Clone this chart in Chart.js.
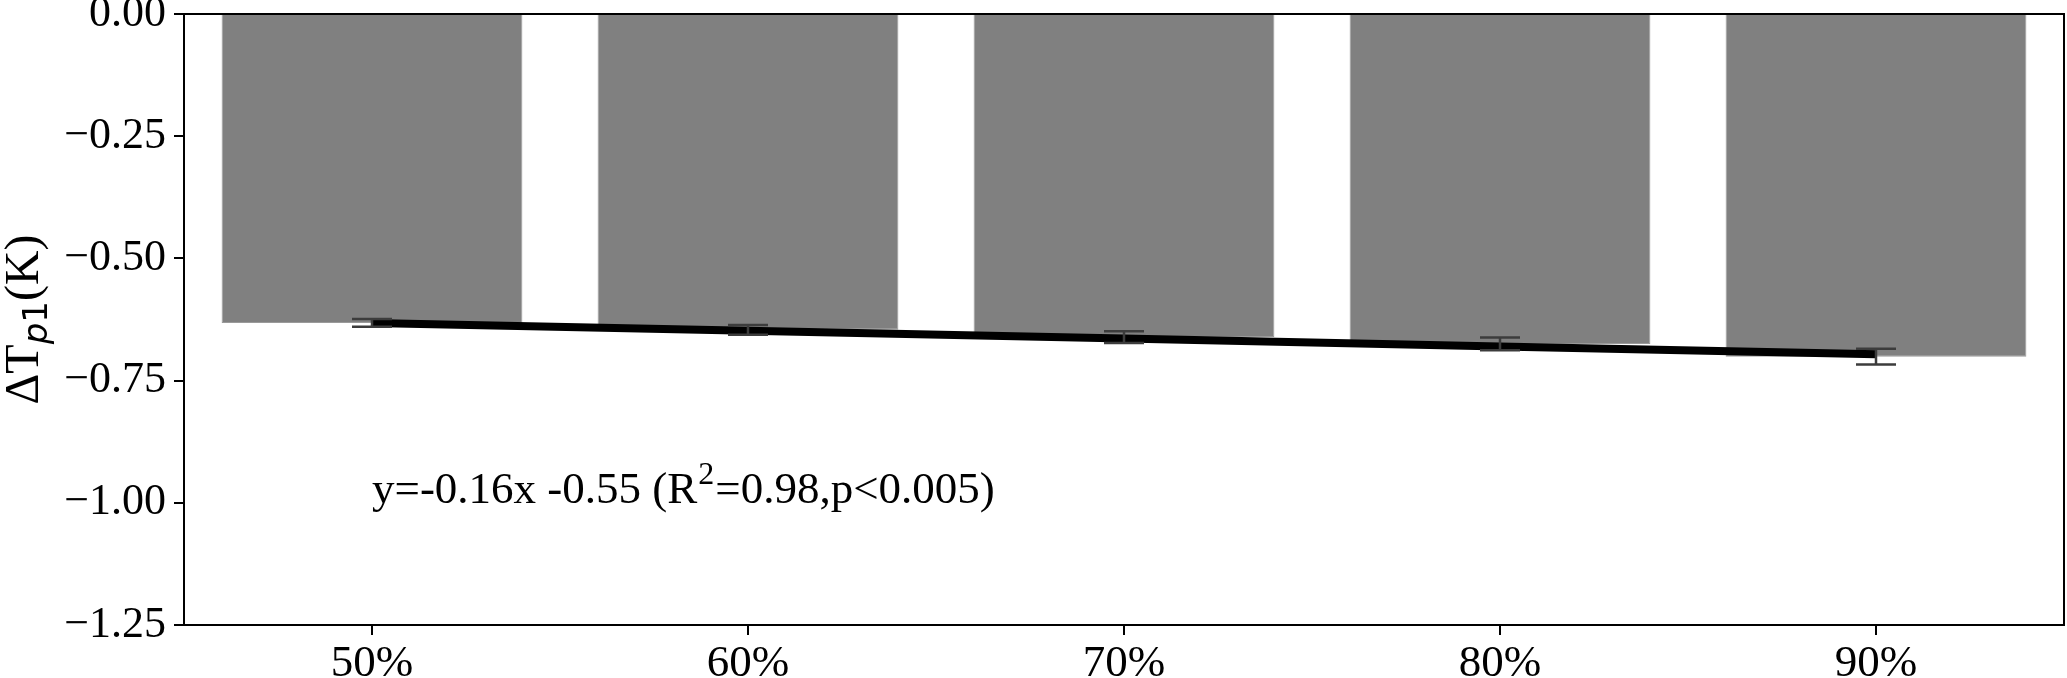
<!DOCTYPE html>
<html lang="en">
<head>
  <meta charset="UTF-8">
  <title>Delta Tp1 bar chart</title>
  <script src="https://cdn.jsdelivr.net/npm/chart.js"></script>
  <style>
    html, body { margin: 0; padding: 0; background: #fff; }
    #wrap { width: 2067px; height: 678px; position: relative; }
  </style>
</head>
<body>
  <div id="wrap"><canvas id="chart"></canvas></div>

  <script>
    // data
    const categories = ['50%', '60%', '70%', '80%', '90%'];
    const barValues = [-0.632, -0.646, -0.661, -0.675, -0.701];
    const errValues = [0.008, 0.010, 0.012, 0.013, 0.016];
    const fitValues = [-0.632, -0.648, -0.664, -0.680, -0.696];
    const yTicks = [0, -0.25, -0.5, -0.75, -1.0, -1.25];
    const yTickLabels = ['0.00', '\u22120.25', '\u22120.50', '\u22120.75', '\u22121.00', '\u22121.25'];
    const fitText = ['y=-0.16x -0.55 (R', '2', '=0.98,p<0.005)'];
    const fitTextAt = [0, -1.0]; // category index, y value

    const serif = "'Liberation Serif', 'Times New Roman', serif";

    // error bars, drawn on top of the bars and the fit line
    const errorBars = {
      id: 'errorBars',
      afterDatasetsDraw(chart) {
        const ctx = chart.ctx, x = chart.scales.x, y = chart.scales.y;
        ctx.save();
        ctx.strokeStyle = '#3c3c3c';
        ctx.lineWidth = 2.5;
        barValues.forEach((v, i) => {
          const px = x.getPixelForValue(i);
          const top = y.getPixelForValue(v + errValues[i]);
          const bot = y.getPixelForValue(v - errValues[i]);
          ctx.beginPath();
          ctx.moveTo(px, top); ctx.lineTo(px, bot);
          ctx.moveTo(px - 20, top); ctx.lineTo(px + 20, top);
          ctx.moveTo(px - 20, bot); ctx.lineTo(px + 20, bot);
          ctx.stroke();
        });
        ctx.restore();
      }
    };

    // frame, y title and the regression note
    const extras = {
      id: 'extras',
      afterDraw(chart) {
        const ctx = chart.ctx, a = chart.chartArea;
        const x = chart.scales.x, y = chart.scales.y;
        ctx.save();
        ctx.strokeStyle = '#000';
        ctx.lineWidth = 2;
        ctx.strokeRect(a.left, a.top, a.right - a.left, a.bottom - a.top);

        // regression text
        let tx = x.getPixelForValue(fitTextAt[0]);
        const ty = y.getPixelForValue(fitTextAt[1]);
        ctx.fillStyle = '#000';
        ctx.textBaseline = 'alphabetic';
        ctx.textAlign = 'left';
        ctx.font = '45px ' + serif;
        ctx.fillText(fitText[0], tx, ty);
        tx += ctx.measureText(fitText[0]).width + 1;
        ctx.font = '32px ' + serif;
        ctx.fillText(fitText[1], tx, ty - 19);
        tx += ctx.measureText(fitText[1]).width + 1;
        ctx.font = '45px ' + serif;
        ctx.fillText(fitText[2], tx, ty);

        // y axis title: ΔT_p1(K)
        ctx.translate(0, (a.top + a.bottom) / 2);
        ctx.rotate(-Math.PI / 2);
        const parts = [
          { t: '\u0394T', f: '48px ' + serif, dy: 0 },
          { t: 'p', f: 'italic 34px DejaVu Sans', dy: 9 },
          { t: '1', f: '34px DejaVu Sans', dy: 9 },
          { t: '(K)', f: '48px ' + serif, dy: 0 }
        ];
        let w = 0;
        parts.forEach(p => { ctx.font = p.f; p.w = ctx.measureText(p.t).width; w += p.w; });
        let cx = -w / 2;
        parts.forEach(p => {
          ctx.font = p.f;
          ctx.fillText(p.t, cx, 38 + p.dy);
          cx += p.w;
        });
        ctx.restore();
      }
    };

    new Chart(document.getElementById('chart'), {
      data: {
        labels: categories,
        datasets: [
          {
            type: 'line',
            data: fitValues,
            borderColor: '#000',
            borderWidth: 8,
            pointRadius: 0,
            fill: false,
            order: 0
          },
          {
            type: 'bar',
            data: barValues,
            backgroundColor: '#808080',
            borderColor: '#9a9a9a',
            borderWidth: 1,
            barPercentage: 0.8,
            categoryPercentage: 1,
            order: 1
          }
        ]
      },
      options: {
        responsive: true,
        maintainAspectRatio: false,
        animation: false,
        layout: { padding: { top: 14, right: 3, left: 0, bottom: 0 } },
        plugins: { legend: { display: false }, tooltip: { enabled: false } },
        scales: {
          x: {
            offset: true,
            grid: { display: true, offset: false, drawOnChartArea: false, drawTicks: true, tickLength: 10, color: '#000', lineWidth: 2 },
            border: { display: true, color: '#000', width: 2 },
            ticks: { color: '#000', font: { family: serif, size: 45 }, padding: 2, maxRotation: 0 },
            afterFit: s => { s.height = 53; s.paddingLeft = 0; s.paddingRight = 0; }
          },
          y: {
            min: -1.25,
            max: 0,
            afterBuildTicks: s => { s.ticks = yTicks.map(v => ({ value: v })); },
            grid: { display: true, drawOnChartArea: false, drawTicks: true, tickLength: 10, color: '#000', lineWidth: 2 },
            border: { display: true, color: '#000', width: 2 },
            ticks: {
              color: '#000',
              font: { family: serif, size: 44 },
              padding: 8,
              callback: (v, i) => yTickLabels[i]
            },
            afterFit: s => { s.width = 184; s.paddingTop = 0; s.paddingBottom = 0; }
          }
        }
      },
      plugins: [errorBars, extras]
    });
  </script>
</body>
</html>
